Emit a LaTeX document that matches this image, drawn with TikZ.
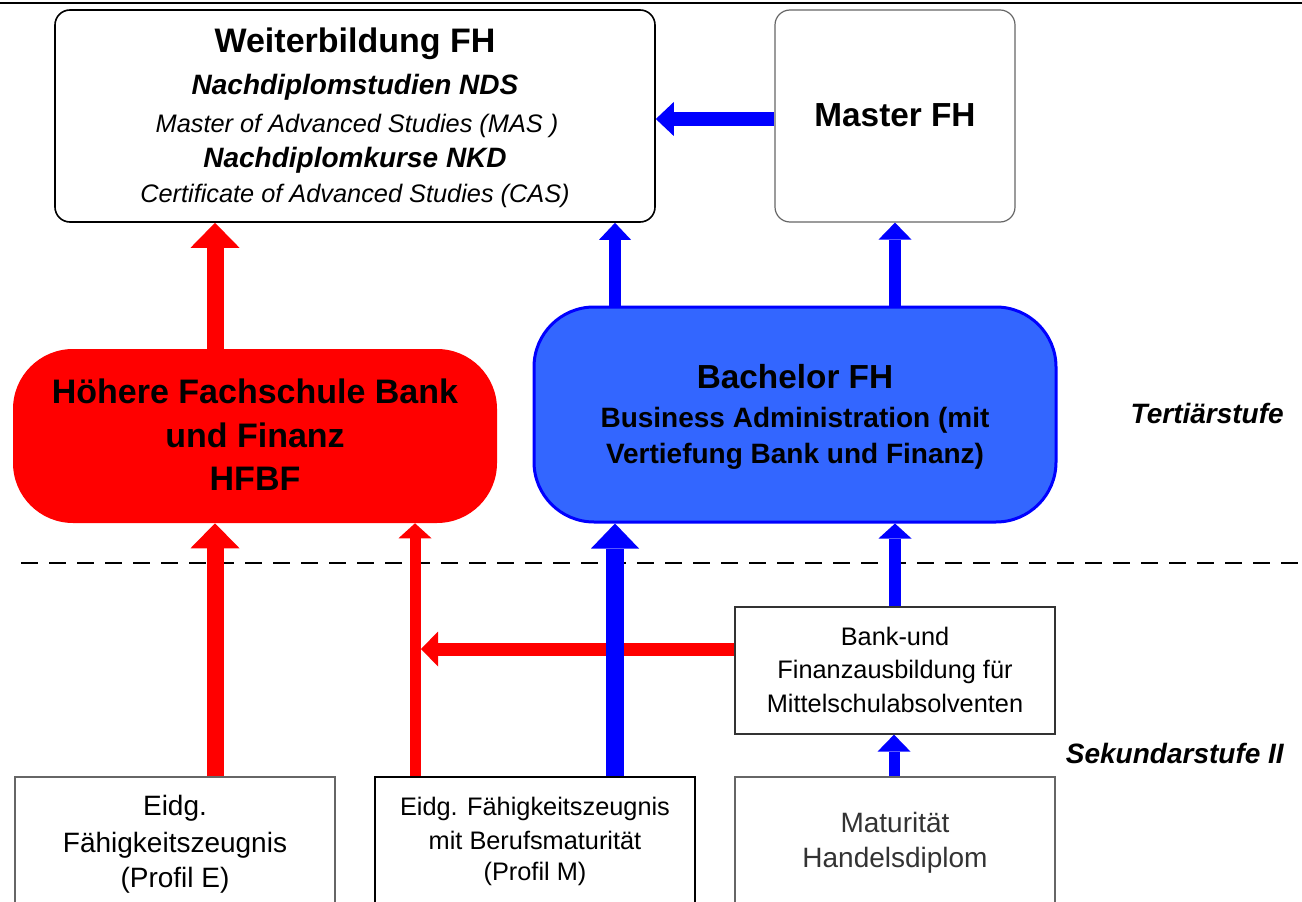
\documentclass[tikz,border=0pt]{standalone}
\usepackage{fontspec}
\setmainfont{Liberation Sans}
\usetikzlibrary{arrows.meta}
\definecolor{bachfill}{HTML}{3366FF}
\definecolor{fblue}{HTML}{0000FF}
\definecolor{fred}{HTML}{FF0000}
\definecolor{boxgray}{HTML}{666666}
\definecolor{matgray}{HTML}{333333}
\begin{document}
\begin{tikzpicture}[x=0.75pt,y=-0.75pt,
  box/.style={rectangle, inner sep=0pt, minimum width=240pt, minimum height=111pt},
  tA/.style={anchor=base, inner sep=0pt, font=\fontsize{25.5pt}{30pt}\selectfont\bfseries},
  tB/.style={anchor=base, inner sep=0pt, font=\fontsize{21pt}{25pt}\selectfont\bfseries\itshape},
  tC/.style={anchor=base, inner sep=0pt, font=\fontsize{19pt}{23pt}\selectfont\itshape},
  tD/.style={anchor=base, inner sep=0pt, font=\fontsize{21pt}{25pt}\selectfont\bfseries},
  tE/.style={anchor=base, inner sep=0pt, font=\fontsize{21pt}{25pt}\selectfont},
  tF/.style={anchor=base, inner sep=0pt, font=\fontsize{19pt}{23pt}\selectfont},
  fat/.style n args={4}{draw=#1, line width=#2pt, -{Triangle[width=#3pt,length=#4pt,line width=0pt]}},
]
\useasboundingbox (0,0) rectangle (1302,902);
\clip (0,0) rectangle (1302,902);
\fill[white] (0,0) rectangle (1302,902);

% top rule and stage divider
\draw[line width=1.5pt] (0,3) -- (1302,3);
\draw[line width=1.1pt, dash pattern=on 12.75pt off 8.25pt] (21,563) -- (1302,563);

% boxes
\node[rectangle, inner sep=0pt, minimum width=450pt, minimum height=159pt, rounded corners=11.25pt, draw=black, line width=1.2pt] (weit) at (355,116) {};
\node[rectangle, inner sep=0pt, minimum width=180pt, minimum height=159pt, rounded corners=11.25pt, draw=boxgray, line width=0.9pt] (master) at (895,116) {};
\node[rectangle, inner sep=0pt, minimum width=363pt, minimum height=130.5pt, rounded corners=45pt, fill=fred] (hfbf) at (255,436) {};
\node[rectangle, inner sep=0pt, minimum width=391.5pt, minimum height=161.25pt, rounded corners=45pt, fill=bachfill, draw=fblue, line width=2.25pt] (bach) at (795,414.5) {};
\node[box, draw=boxgray, line width=1.1pt] (profE) at (175,851) {};
\node[box, draw=black, line width=1.5pt] (profM) at (535,851) {};
\node[box, minimum height=95.25pt, draw=matgray, line width=0.9pt] (bank) at (895,670.5) {};
\node[box, draw=boxgray, line width=0.9pt] (mat) at (895,851) {};

% texts
\node[tA] (w1) at (355,53) {Weiterbildung FH};
\node[tB] (w2) at (355,95) {Nachdiplomstudien NDS};
\node[tC] (w3) at (357,133) {Master of Advanced Studies (MAS )};
\node[tB] (w4) at (355,168) {Nachdiplomkurse NKD};
\node[tC] (w5) at (355,203) {Certificate of Advanced Studies (CAS)};
\node[tA, font=\fontsize{25pt}{30pt}\selectfont\bfseries] (m1) at (895,127) {Master FH};
\node[tA, font=\fontsize{25pt}{30pt}\selectfont\bfseries] (b1) at (795,388) {Bachelor FH};
\node[tD] (b2) at (795,427) {Business Administration (mit};
\node[tD] (b3) at (795,463) {Vertiefung Bank und Finanz)};
\node[tA] (h1) at (255,403) {Höhere Fachschule Bank};
\node[tA] (h2) at (255,447) {und Finanz};
\node[tA] (h3) at (255,490) {HFBF};
\node[tB, anchor=base east] (tert) at (1284,423) {Tertiärstufe};
\node[tB, anchor=base east] (sek) at (1284,763) {Sekundarstufe II};
\node[tE] (e1) at (175,815) {Eidg.};
\node[tE] (e2) at (175,852) {Fähigkeitszeugnis};
\node[tE] (e3) at (175,887) {(Profil E)};
\node[tF] (p1) at (535,815) {Eidg. Fähigkeitszeugnis};
\node[tF] (p2) at (535,849) {mit Berufsmaturität};
\node[tF] (p3) at (535,880) {(Profil M)};
\node[tF] (k1) at (895,645) {Bank-und};
\node[tF] (k2) at (895,678) {Finanzausbildung für};
\node[tF] (k3) at (895,712) {Mittelschulabsolventen};
\node[tE, text=matgray] (t1) at (895,832) {Maturität};
\node[tE, text=matgray] (t2) at (895,867) {Handelsdiplom};

% helper coordinates
\coordinate (c215) at (215,0);
\coordinate (c415) at (415,0);
\coordinate (c615) at (615,0);
\coordinate (c895) at (895,0);
\coordinate (c894) at (894,0);
\coordinate (join) at (421,649);

% arrows
\draw[fat={fblue}{10.5}{25.5}{13.5}] ([yshift=-2.25pt]master.west) -- ([yshift=-2.25pt]weit.east);
\draw[fat={fblue}{9}{24}{12.75}] (bach.north -| c615) -- (weit.south -| c615);
\draw[fat={fblue}{9}{24.75}{12.75}] (bach.north -| c895) -- (master.south -| c895);
\draw[fat={fred}{12.75}{36.75}{18.75}] (hfbf.north -| c215) -- (weit.south -| c215);
\draw[fat={fred}{12.75}{36.75}{18.75}] (profE.north -| c215) -- (hfbf.south -| c215);
\draw[fat={fred}{8.25}{24.75}{11.25}] (profM.north -| c415) -- (hfbf.south -| c415);
\draw[fat={fred}{9.75}{26.25}{12.75}] (bank.west |- join) -- (join);
\draw[fat={fblue}{13.5}{36}{18.75}] (profM.north -| c615) -- (bach.south -| c615);
\draw[fat={fblue}{9}{24.75}{11.25}] (bank.north -| c895) -- (bach.south -| c895);
\draw[fat={fblue}{8.25}{24.75}{12.75}] (mat.north -| c894) -- (bank.south -| c894);
\end{tikzpicture}
\end{document}
